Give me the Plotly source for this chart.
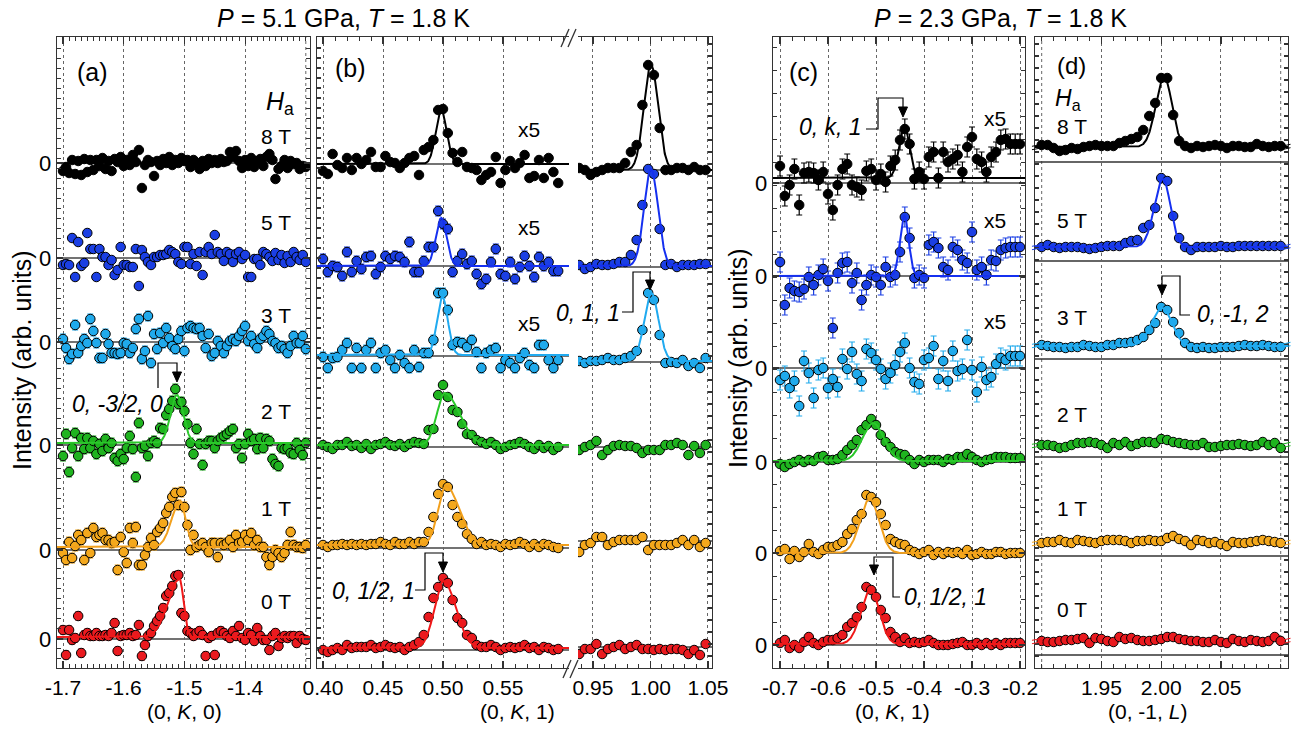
import numpy as np
import plotly.graph_objects as go

# the figure fills the 1303x731 window; the page's default body margin is removed
# after plotting (post_script) so that figure pixels map 1:1 onto the window
W, H = 1303, 731
OX, OY = 0, 0
FW, FH = W - OX, H - OY
FONT = "Liberation Sans, Arial, Helvetica, sans-serif"
LINE = "#333333"

# ---------------- data ----------------
FIELDS = ["8 T", "5 T", "3 T", "2 T", "1 T", "0 T"]

# scan grids
K_a = [-1.700, -1.695, -1.690, -1.685, -1.680, -1.675, -1.670, -1.665, -1.660, -1.655,
       -1.650, -1.645, -1.640, -1.635, -1.630, -1.625, -1.620, -1.615, -1.610, -1.605,
       -1.600, -1.595, -1.590, -1.585, -1.580, -1.575, -1.570, -1.565, -1.560, -1.555,
       -1.550, -1.545, -1.540, -1.535, -1.530, -1.525, -1.520, -1.515, -1.510, -1.505,
       -1.500, -1.495, -1.490, -1.485, -1.480, -1.475, -1.470, -1.465, -1.460, -1.455,
       -1.450, -1.445, -1.440, -1.435, -1.430, -1.425, -1.420, -1.415, -1.410, -1.405,
       -1.400, -1.395, -1.390, -1.385, -1.380, -1.375, -1.370, -1.365, -1.360, -1.355,
       -1.350, -1.345, -1.340, -1.335, -1.330, -1.325, -1.320, -1.315, -1.310, -1.305, -1.300]
K_b1 = [0.400, 0.404, 0.408, 0.412, 0.416, 0.420, 0.424, 0.428, 0.432, 0.436,
        0.440, 0.444, 0.448, 0.452, 0.456, 0.460, 0.464, 0.468, 0.472, 0.476,
        0.480, 0.484, 0.488, 0.492, 0.496, 0.500, 0.504, 0.508, 0.512, 0.516,
        0.520, 0.524, 0.528, 0.532, 0.536, 0.540, 0.544, 0.548, 0.552, 0.556,
        0.560, 0.564, 0.568, 0.572, 0.576, 0.580, 0.584, 0.588, 0.592, 0.596]
K_b2 = [0.938, 0.943, 0.948, 0.953, 0.958, 0.963, 0.968, 0.973, 0.978, 0.983,
        0.988, 0.993, 0.998, 1.003, 1.008, 1.013, 1.018, 1.023, 1.028, 1.033,
        1.038, 1.043, 1.048]
K_c = [-0.70, -0.69, -0.68, -0.67, -0.66, -0.65, -0.64, -0.63, -0.62, -0.61,
       -0.60, -0.59, -0.58, -0.57, -0.56, -0.55, -0.54, -0.53, -0.52, -0.51,
       -0.50, -0.49, -0.48, -0.47, -0.46, -0.45, -0.44, -0.43, -0.42, -0.41,
       -0.40, -0.39, -0.38, -0.37, -0.36, -0.35, -0.34, -0.33, -0.32, -0.31,
       -0.30, -0.29, -0.28, -0.27, -0.26, -0.25, -0.24, -0.23, -0.22, -0.21, -0.20]
L_d = [1.900, 1.905, 1.910, 1.915, 1.920, 1.925, 1.930, 1.935, 1.940, 1.945,
       1.950, 1.955, 1.960, 1.965, 1.970, 1.975, 1.980, 1.985, 1.990, 1.995,
       2.000, 2.005, 2.010, 2.015, 2.020, 2.025, 2.030, 2.035, 2.040, 2.045,
       2.050, 2.055, 2.060, 2.065, 2.070, 2.075, 2.080, 2.085, 2.090, 2.095, 2.100]

# panel (a): (0, K, 0), P = 5.1 GPa
A_8T = [-0.8, -0.4, -1.0, 0.3, -1.1, 0.2, -1.2, 0.4, -0.9, 0.3,
        -0.7, 0.3, -0.3, 0.5, -0.6, 0.2, -0.8, 0.4, 0.1, 0.6,
        -0.3, 0.3, -0.2, 0.8, 0.1, 1.3, -2.5, -0.2, 0.3, 0.1,
        -1.3, 0.2, -0.2, 0.4, 0.0, 0.6, -0.2, 0.3, 0.0, 0.5,
        0.2, 0.3, -0.4, 0.3, 0.0, -0.6, 0.2, -0.3, 0.4, 0.0,
        0.3, 0.0, 0.4, 0.1, 0.2, 1.1, 0.6, 1.2, 0.2, -0.5,
        0.3, -0.3, 0.5, -0.4, 0.2, 0.4, -0.3, 0.6, 0.9, 0.3,
        -1.6, -0.6, -0.3, 0.3, -0.5, 0.2, -0.1, 0.0, -0.6, -0.3, -0.4]
A_5T = [-0.7, -0.6, -0.7, 2.0, -1.9, 1.6, -0.8, -0.5, 2.5, 0.9,
        0.9, -1.9, 0.9, 0.1, 0.1, -0.7, -0.2, -1.7, -1.2, 1.1,
        -0.7, -0.7, -0.9, -0.9, 0.9, -2.8, 0.8, 0.1, -0.4, -0.7,
        0.1, 0.1, 0.3, 0.3, 0.4, 0.8, 0.6, 0.4, -0.4, -0.6,
        1.1, 1.1, -0.6, 0.4, -0.8, 0.6, -1.7, 0.6, 1.1, 0.4,
        2.3, 0.6, 0.4, -0.3, 0.6, 0.4, -0.4, 0.4, 0.6, -0.1,
        0.3, -1.9, -1.9, -0.1, -0.1, -0.7, 0.6, 0.4, 0.1, -0.3,
        0.5, -0.2, 0.3, -0.5, 0.2, -0.4, 0.6, 0.1, -0.2, 0.3, -0.4]
A_3T = [0.3, -0.6, -1.7, -1.2, 1.7, -1.1, -0.4, 0.3, -0.1, 2.3,
        1.1, -0.1, -1.6, -1.6, 0.8, -0.2, -1.1, -1.1, -1.2, -1.1,
        -0.1, -0.2, -1.1, -0.6, 1.3, 2.3, -1.7, -0.9, 2.6, -2.1,
        0.8, -0.7, 0.9, -0.1, 1.4, 0.4, -0.4, -0.7, 0.3, 1.1,
        -0.9, 1.4, 1.6, 1.4, 1.3, 1.4, 0.6, -0.6, 0.8, -1.4,
        -1.1, 0.1, -0.4, -1.1, -0.4, 0.1, 0.3, 0.1, 0.6, 1.1,
        1.6, 0.1, 0.6, -0.2, -0.6, 0.3, 0.6, 1.1, 0.8, 0.1,
        -0.1, -0.6, -0.4, -0.7, -1.1, -0.4, 0.6, -0.1, -0.1, 0.6, -0.7]
A_2T = [-1.1, 1.1, -2.7, -0.3, 1.2, -1.1, 0.7, -0.4, 0.7, -0.3,
        0.4, -0.9, 0.1, -0.6, 0.6, -0.3, 0.2, -1.3, -1.6, -0.9,
        -1.4, -0.3, 0.9, -0.4, -3.2, 2.2, -0.3, -0.1, -1.1, 0.2,
        0.4, 0.2, 1.7, 1.6, 3.0, 3.6, 4.4, 5.6, 4.1, 4.3,
        3.4, 2.1, 0.2, -0.9, 1.6, 0.1, -2.0, 0.1, 0.4, 0.4,
        -0.3, 0.4, 0.7, 0.9, 1.1, 1.4, 1.6, -0.3, 0.1, -1.3,
        0.1, 1.1, 0.4, 0.6, -0.4, 0.7, -0.3, 0.6, 0.4, -1.4,
        -1.9, -2.1, -0.3, -0.4, -0.3, -0.8, -0.9, 0.2, -0.5, -1.0, 0.2]
A_1T = [-0.3, -1.0, 0.8, -0.8, 0.4, 1.5, 1.0, -1.0, 1.7, -0.3,
        2.2, 1.3, 1.5, 1.7, 1.0, 1.0, 0.7, 0.8, -2.0, 1.3,
        -0.2, -1.3, 2.2, 0.7, 2.3, -1.5, -1.5, -0.5, 0.3, 1.2,
        0.5, 1.8, 2.2, 2.7, 3.7, 4.3, 5.3, 5.7, 4.5, 5.8,
        4.3, 2.5, 0.0, 1.5, 0.3, 0.5, 0.7, 0.3, -0.2, 0.7,
        0.7, -0.7, 0.7, 0.5, 0.7, 1.0, 0.3, 1.5, 0.7, 0.8,
        1.5, 1.0, 1.7, 0.5, 1.0, 0.3, 0.3, -0.7, -1.5, -0.7,
        0.0, -0.3, -0.7, -0.3, 0.5, 1.8, 0.5, 0.3, 0.3, 0.2, 0.5]
A_0T = [0.9, -1.6, 0.9, -0.1, 0.1, 2.3, -1.4, 0.4, 0.6, 0.3,
        0.3, 0.6, 0.3, 0.3, 0.4, 0.3, 0.6, 1.6, -1.2, 0.3,
        0.4, 0.4, 0.6, 0.3, 0.4, 1.4, -1.7, -0.6, 0.3, 0.6,
        1.3, 1.8, 2.3, 3.1, 4.3, 4.6, 5.3, 6.3, 6.4, 2.6,
        2.3, 0.8, 0.6, 0.3, 0.6, 0.8, 0.4, -1.7, 0.1, 0.3,
        -1.6, 0.6, 0.8, 0.6, 0.3, 0.1, 0.8, 0.3, 1.3, 0.1,
        -0.1, 0.6, 0.4, -0.2, 1.1, 0.3, -0.1, -0.1, -1.1, 0.3,
        0.6, -0.7, 0.1, 0.3, 0.1, 0.3, 0.3, -0.4, 0.3, 0.0, -0.1]

# panel (b), left part: (0, K, 1) around K = 1/2 (8, 5, 3 T shown x5)
B1_8T = [-0.7, -1.0, 1.0, -0.1, -0.4, 0.6, -0.6, 0.6, 0.0, 0.4,
         1.2, -0.3, -0.3, 0.8, 0.2, 0.1, -0.4, 0.1, 0.6, 0.8,
         -1.1, 1.4, 1.7, 2.4, 5.4, 5.5, 3.1, 1.1, 0.2, 1.2,
         -0.3, -0.4, -0.6, -1.6, -1.1, -0.8, 0.7, -1.9, -0.6, 0.3,
         -0.4, 0.1, 0.9, -1.4, -1.2, 0.4, -1.4, 0.6, -0.8, -1.9]
B1_5T = [0.7, -0.6, 0.0, -0.1, -1.0, 1.4, -0.6, 0.5, -0.3, 0.9,
         1.0, -0.8, -0.1, 1.0, 0.7, 1.0, 0.9, 0.4, 2.4, -0.6,
         -0.6, 0.5, 1.9, 1.9, 5.5, 4.2, 3.7, -0.6, 0.5, 1.2,
         0.2, 0.5, -0.8, -1.8, -1.3, 0.4, 1.7, -0.8, -1.0, 0.4,
         -1.3, -0.1, 1.0, 0.0, -1.1, 0.9, 0.0, 0.4, -0.5, -0.5]
B1_3T = [-0.1, -1.2, -0.2, -0.1, 0.6, 1.3, -1.2, 0.8, -1.2, 0.6,
         1.3, -1.2, 0.3, 0.6, -0.4, -1.2, 0.1, -0.7, -1.2, 0.6,
         -1.1, 0.3, 0.3, 1.6, 6.3, 6.3, 4.6, 1.1, 1.4, 1.3,
         0.9, 1.6, 0.4, -1.2, 0.3, 0.6, 0.8, -1.2, -0.4, -0.7,
         -1.2, -0.2, 0.3, -0.9, -1.2, 1.1, 1.1, -0.4, -1.2, -0.4]
B1_2T = [0.2, 0.0, -0.2, 0.2, 0.2, 0.5, 0.1, 0.2, -0.1, 0.3,
         -0.2, 0.2, 0.3, 0.5, 0.2, 0.1, 0.3, 0.0, 0.3, 0.5,
         0.4, 0.3, 1.7, 1.8, 5.2, 6.2, 5.0, 3.7, 3.5, 2.3,
         1.3, 1.2, 0.7, 0.5, 0.3, 0.5, 0.2, -0.2, 0.0, 0.2,
         0.3, 0.5, 0.3, 0.0, -0.2, 0.2, -0.1, 0.1, -0.3, 0.0]
B1_1T = [0.3, 0.1, 0.3, 0.3, 0.4, 0.3, 0.4, 0.3, 0.4, 0.3,
         0.4, 0.4, 0.6, 0.4, 0.3, 0.6, 0.4, 0.4, 0.6, 0.4,
         0.6, 0.6, 1.6, 3.1, 5.4, 6.4, 6.1, 4.3, 3.1, 2.4,
         1.4, 0.9, 0.4, 0.6, 0.3, 0.4, 0.3, 0.1, 0.4, 0.3,
         0.4, 0.6, 0.4, 0.1, 0.4, 0.1, 0.4, 0.3, 0.1, 0.0]
B1_0T = [0.0, -0.2, 0.0, 0.2, 0.0, 0.5, 0.2, 0.3, 0.3, 0.3,
         0.5, 0.2, 0.3, 0.5, 0.3, 0.2, 0.3, 0.0, 0.3, 0.5,
         0.8, 1.5, 3.3, 5.2, 6.3, 7.2, 6.7, 5.0, 3.2, 2.7,
         1.5, 1.2, 0.5, 0.3, 0.3, 0.5, 0.3, 0.0, 0.2, 0.3,
         0.2, 0.3, 0.5, 0.2, 0.3, 0.0, 0.3, 0.2, 0.0, 0.1]

# panel (b), right part: around K = 1
B2_8T = [0.2, 0.0, -0.5, -0.2, 0.0, 0.2, 0.2, 0.2, 0.7, 1.8, 2.5, 6.5, 10.5, 9.5, 4.2,
         0.0, 0.0, 0.2, 0.2, 0.0, 0.3, 0.0, 0.0]
B2_5T = [0.2, -0.2, 0.0, 0.3, 0.2, 0.2, 0.3, 0.5, 0.5, 1.2, 2.7, 6.2, 9.8, 9.3, 3.8,
         0.2, 0.3, 0.0, 0.2, 0.2, 0.2, 0.3, 0.3]
B2_3T = [0.1, -0.1, 0.1, 0.1, 0.2, 0.4, 0.2, 0.2, 0.4, 0.6, 1.1, 3.2, 6.9, 6.2, 2.7,
         -0.1, 0.0, -0.1, 0.2, -0.4, -0.1, -0.6, 0.4]
B2_2T = [-0.3, 0.0, 0.2, 0.6, -0.8, -0.3, 0.1, 0.2, 0.1, 0.1, -0.1, -0.6, -0.3, -0.3, -0.3,
         0.2, 0.2, 0.4, 0.2, -0.8, 0.1, -0.6, 0.2]
B2_1T = [-1.1, -0.4, -0.2, 0.4, 0.4, -0.4, -0.1, 0.1, 0.1, 0.1, 0.1, 0.4, -0.9, -0.4, -0.4,
         -0.4, -0.4, -0.2, 0.1, -0.4, 0.1, -0.6, -0.2]
B2_0T = [-0.7, -0.2, -0.2, 0.3, -0.7, -0.2, 0.0, 0.2, -0.2, 0.0, 0.2, -0.2, -0.2, -0.3, -0.2,
         -0.3, -0.2, -0.2, -0.3, -0.7, -0.3, -0.8, 0.3]

# panel (c): (0, K, 1), P = 2.3 GPa (8, 5, 3 T shown x5)
C_8T = [1.7, -1.3, -0.2, 1.4, -2.2, 1.0, 1.1, 1.0, 0.3, 1.1,
        -1.1, -2.7, -0.2, 1.4, 1.9, -0.2, -0.4, -0.7, 1.2, 1.4,
        0.3, 0.9, 0.1, 1.7, 2.3, 4.3, 5.4, 3.9, 0.4, 1.1,
        0.4, 2.6, 3.1, 0.5, 3.1, 2.1, 2.4, 2.8, 1.1, 3.6,
        4.6, 2.4, 2.1, 1.1, 2.6, 3.1, 4.3, 4.4, 3.9, 3.9, 3.9]
C_5T = [1.4, -2.9, -1.2, -1.5, -1.6, -1.3, -0.1, -0.9, 0.1, 0.7,
        -0.5, -5.2, 0.3, 1.3, 1.4, -0.7, 0.3, -2.4, -0.9, 0.1,
        -0.1, -0.9, 0.9, -0.1, 0.1, 2.4, 5.9, 3.8, -0.2, 0.1,
        -0.2, 3.1, 3.4, 2.8, 0.9, 0.6, 2.9, 2.6, 1.6, 1.3,
        4.4, 0.6, 0.9, 0.1, 1.6, 1.5, 2.6, 2.8, 2.9, 2.9, 2.9]
C_3T = [-1.2, -0.8, -2.0, -1.3, -3.8, 0.7, -0.5, -3.0, -0.2, 0.0,
        -2.0, -1.1, -1.9, 0.9, -0.1, 1.6, -0.6, -1.3, 1.9, 1.5,
        0.8, -0.1, -1.1, -0.5, 0.3, 1.6, 2.5, 0.0, -1.4, -1.6,
        0.8, 1.0, 2.2, -1.1, 0.7, -1.3, 1.7, -0.3, -0.1, 2.8,
        -0.2, -2.4, 0.1, -1.2, -0.9, 0.4, 1.0, 0.8, 1.2, 1.2, 1.2]
C_2T = [-0.2, -0.5, -0.2, 0.0, 0.2, 0.0, 0.2, 0.1, 0.5, 0.6,
        0.2, 0.2, 0.3, 0.7, 1.2, 1.7, 2.2, 3.2, 3.7, 4.3,
        3.7, 2.7, 2.0, 1.5, 1.0, 0.8, 0.7, 0.2, -0.2, 0.2,
        0.0, 0.2, 0.2, 0.2, 0.0, 0.3, 0.2, 0.5, 0.5, 0.8,
        0.5, 0.2, 0.0, 0.2, 0.3, 0.5, 0.5, 0.5, 0.4, 0.4, 0.4]
C_1T = [0.2, 0.4, -0.6, 0.2, -0.4, 0.1, 0.9, 0.1, -0.1, 0.3,
        0.6, 0.6, 0.8, 1.1, 1.9, 2.4, 3.3, 3.9, 5.8, 5.6,
        5.1, 3.9, 2.8, 1.4, 1.1, 0.9, 0.8, 0.3, 0.1, -0.1,
        0.1, 0.3, -0.2, 0.1, -0.1, 0.1, 0.0, 0.1, -0.1, 0.3,
        -0.2, -0.1, 0.1, -0.1, -0.1, 0.1, 0.1, -0.1, 0.0, 0.0, 0.0]
C_0T = [0.2, 0.5, -0.3, 0.0, -0.3, 0.3, 0.8, 0.2, 0.0, 0.3,
        0.5, 0.5, 0.7, 1.0, 1.8, 2.2, 2.8, 3.8, 5.8, 5.5,
        4.8, 3.5, 2.7, 1.3, 0.8, 0.3, 0.7, 0.2, 0.3, 0.2,
        0.3, 0.5, 0.2, 0.0, 0.0, 0.0, 0.1, 0.2, 0.3, 0.0,
        0.0, 0.2, 0.0, 0.2, 0.0, 0.2, 0.0, 0.2, 0.2, 0.2, 0.2]

# panel (d): (0, -1, L)
D_8T = [0.2, 0.2, -0.1, -0.4, -0.3, -0.1, -0.2, 0.0, 0.1, 0.2,
        0.1, 0.1, 0.1, 0.4, 0.6, 0.8, 1.0, 1.7, 3.1, 4.4,
        6.9, 6.9, 3.2, 0.6, 0.1, -0.1, 0.1, 0.0, 0.1, 0.2,
        0.1, -0.1, 0.1, 0.1, 0.0, 0.0, 0.3, 0.1, 0.0, 0.1, 0.1]
D_5T = [0.0, 0.2, 0.0, -0.1, 0.0, 0.0, 0.0, -0.1, -0.2, -0.1,
        0.0, 0.1, 0.1, 0.1, 0.4, 0.6, 0.7, 1.9, 2.2, 3.9,
        6.9, 6.6, 3.1, 0.9, 0.0, -0.3, 0.0, 0.0, 0.0, 0.0,
        0.1, 0.0, 0.0, 0.1, 0.1, 0.1, 0.1, 0.1, 0.1, 0.1, 0.1]
D_3T = [0.0, -0.1, -0.2, -0.2, -0.3, -0.2, -0.2, 0.0, -0.1, -0.2,
        -0.2, 0.0, 0.0, 0.2, 0.2, 0.3, 0.5, 0.8, 1.5, 2.2,
        3.8, 3.5, 2.3, 1.2, 0.2, -0.2, -0.3, -0.2, -0.3, -0.3,
        -0.2, -0.2, -0.2, -0.1, 0.0, -0.1, -0.1, 0.0, -0.1, -0.2, -0.2]
D_2T = [0.0, 0.0, -0.1, -0.3, -0.2, 0.0, 0.2, 0.2, 0.3, 0.2,
        0.0, -0.3, 0.2, 0.0, 0.3, -0.1, 0.1, 0.3, 0.3, 0.2,
        0.6, 0.5, 0.3, 0.2, 0.1, 0.0, 0.0, 0.2, -0.2, -0.2,
        -0.1, 0.0, 0.0, 0.1, 0.0, -0.1, 0.0, 0.3, 0.0, 0.2, -0.3]
D_1T = [0.0, 0.1, 0.1, 0.3, 0.1, 0.0, 0.3, 0.2, 0.1, 0.0,
        0.2, 0.3, 0.3, 0.3, 0.2, 0.0, 0.2, 0.2, 0.3, 0.2,
        0.2, 0.5, 0.7, 0.4, 0.2, -0.2, 0.3, 0.2, 0.0, 0.1,
        -0.1, -0.3, 0.1, 0.0, 0.0, 0.1, 0.2, 0.3, 0.2, 0.1, 0.0]
D_0T = [0.0, -0.1, -0.1, 0.0, 0.1, 0.1, 0.2, 0.3, -0.2, 0.3,
        0.2, 0.0, -0.1, 0.4, 0.2, 0.3, 0.1, 0.0, 0.0, 0.1,
        0.2, 0.4, 0.4, 0.2, 0.1, 0.0, 0.0, -0.1, -0.1, 0.1,
        -0.1, -0.2, 0.2, 0.0, -0.1, 0.1, 0.0, -0.1, 0.0, 0.4, 0.0]

# error bar half-sizes per field (8,5,3,2,1,0 T)
ERR_A = [0.3, 0.3, 0.5, 0.5, 0.5, 0.4]
ERR_B1 = [0.3, 0.5, 0.5, 0.2, 0.2, 0.2]
ERR_B2 = [0.2, 0.2, 0.2, 0.2, 0.2, 0.2]
ERR_C = [1.0, 1.0, 1.0, 0.3, 0.3, 0.3]
ERR_D = [0.1, 0.1, 0.1, 0.1, 0.1, 0.1]

# fit parameters: (background, amplitude, centre, sigma_left, sigma_right)
FIT_A = {"2 T": (0.2, 4.8, -1.5125, 0.0105, 0.0105),
         "1 T": (0.3, 4.6, -1.507, 0.014, 0.009),
         "0 T": (0.2, 5.8, -1.508, 0.019, 0.0065)}
FIT_B1 = {"8 T": (0.0, 5.4, 0.4985, 0.0045, 0.0045),
          "5 T": (0.0, 4.8, 0.4985, 0.0045, 0.0045),
          "3 T": (0.1, 5.8, 0.4995, 0.0045, 0.0045),
          "2 T": (0.2, 5.2, 0.5015, 0.0065, 0.012),
          "1 T": (0.3, 5.9, 0.5025, 0.0065, 0.011),
          "0 T": (0.2, 6.7, 0.5005, 0.0075, 0.010)}
FIT_B2 = {"8 T": (0.0, 10.5, 1.0005, 0.0062, 0.0062),
          "5 T": (0.1, 9.7, 1.0005, 0.006, 0.006),
          "3 T": (0.1, 6.8, 1.0008, 0.0062, 0.0062)}
FIT_C = {"8 T": (0.5, 5.2, -0.441, 0.011, 0.011),
         "5 T": (0.0, 6.0, -0.441, 0.009, 0.009),
         "2 T": (0.1, 3.8, -0.506, 0.022, 0.022),
         "1 T": (0.0, 5.4, -0.513, 0.020, 0.019),
         "0 T": (0.1, 5.4, -0.511, 0.020, 0.018)}
FIT_D = {"8 T": (0.0, 7.0, 2.0025, 0.0070, 0.0065),
         "5 T": (0.0, 6.8, 2.0015, 0.0072, 0.0062),
         "3 T": (-0.1, 3.8, 2.0010, 0.0090, 0.0080)}

# ---------------- styling / layout ----------------
MARKER_COLORS = ["#000000", "#1b3fe4", "#20aaec", "#1fb41f", "#f4a81c", "#ea1a1f"]
FIT_COLORS = ["#000000", "#1530f0", "#20aaf0", "#2ac82a", "#f2a01c", "#f01818"]

# vertical offsets (zero line of each field) per panel, in plot units
OFF_A = [50.5, 41.0, 32.6, 22.3, 11.8, 2.9]
OFF_B1 = [50.4, 40.2, 31.2, 22.1, 12.0, 1.8]
OFF_B2 = [49.8, 40.1, 30.6, 22.1, 12.7, 2.1]
OFF_C = [48.5, 39.2, 30.0, 20.6, 11.5, 2.3]
OFF_D = [52.1, 42.1, 32.3, 22.3, 12.5, 2.7]
SEP_D = [50.6, 40.7, 30.9, 21.1, 11.2, 1.3]

Y_RANGE = [0, 63.1]

RANGE_A = [-1.7099, -1.2931]
RANGE_B1 = [0.395, 0.605]
RANGE_B2 = [0.937, 1.0535]
RANGE_C = [-0.7146, -0.1896]
RANGE_D = [1.8944, 2.1061]


def px(x):
    return (x - OX) / FW


def py(y):
    return 1 - (y - OY) / FH


Y_DOM = [py(668), py(37)]


def fit_curve(x, bg, amp, cen, sl, sr):
    s = np.where(x < cen, sl, sr)
    return bg + amp * np.exp(-0.5 * ((x - cen) / s) ** 2)


fig = go.Figure()

PANELS = [
    dict(xa="x", ya="y", K=K_a, data=[A_8T, A_5T, A_3T, A_2T, A_1T, A_0T],
         off=OFF_A, err=ERR_A, fits=FIT_A, rng=RANGE_A, base=True),
    dict(xa="x2", ya="y2", K=K_b1, data=[B1_8T, B1_5T, B1_3T, B1_2T, B1_1T, B1_0T],
         off=OFF_B1, err=ERR_B1, fits=FIT_B1, rng=RANGE_B1, base=True),
    dict(xa="x3", ya="y3", K=K_b2, data=[B2_8T, B2_5T, B2_3T, B2_2T, B2_1T, B2_0T],
         off=OFF_B2, err=ERR_B2, fits=FIT_B2, rng=RANGE_B2, base=True),
    dict(xa="x4", ya="y4", K=K_c, data=[C_8T, C_5T, C_3T, C_2T, C_1T, C_0T],
         off=OFF_C, err=ERR_C, fits=FIT_C, rng=RANGE_C, base=True),
    dict(xa="x5", ya="y5", K=L_d, data=[D_8T, D_5T, D_3T, D_2T, D_1T, D_0T],
         off=OFF_D, err=ERR_D, fits=FIT_D, rng=RANGE_D, base=False),
]

shapes = []
for P in PANELS:
    if P["base"]:
        for o in P["off"]:
            shapes.append(dict(type="line", xref=P["xa"] + " domain", yref=P["ya"],
                               x0=0, x1=1, y0=o, y1=o, layer="below",
                               line=dict(color="#444444", width=1.3)))
    for i, lab in enumerate(FIELDS):
        vals = P["data"][i]
        n = min(len(P["K"]), len(vals))
        fig.add_trace(go.Scatter(
            x=P["K"][:n], y=[P["off"][i] + v for v in vals[:n]],
            mode="markers", xaxis=P["xa"], yaxis=P["ya"], hoverinfo="skip",
            marker=dict(size=9.5, color=MARKER_COLORS[i], line=dict(color="black", width=1)),
            error_y=dict(type="constant", value=P["err"][i], color=MARKER_COLORS[i],
                         thickness=1.2, width=3)))
    for i, lab in enumerate(FIELDS):
        if lab in P["fits"]:
            xf = np.linspace(P["rng"][0], P["rng"][1], 700)
            yf = P["off"][i] + fit_curve(xf, *P["fits"][lab])
            fig.add_trace(go.Scatter(x=xf, y=yf, mode="lines", xaxis=P["xa"], yaxis=P["ya"],
                                     hoverinfo="skip", line=dict(color=FIT_COLORS[i], width=2)))

# unlabeled dotted grid lines at the panel edges
for xa, v in (("x", -1.3), ("x5", 1.90), ("x5", 2.10)):
    shapes.append(dict(type="line", xref=xa, yref=xa.replace("x", "y") + " domain",
                       x0=v, x1=v, y0=0, y1=1, layer="below",
                       line=dict(color="#666666", width=1, dash="dot")))

# panel (d): separators and axis-break marks
for s in SEP_D:
    shapes.append(dict(type="line", xref="x5 domain", yref="y5", x0=0, x1=1, y0=s, y1=s,
                       layer="below", line=dict(color="#333333", width=1.5)))
for i, o in enumerate(OFF_D):
    for dy in (-0.17, 0.17):
        for (a0, a1) in ((-0.012, 0.03), (0.975, 1.01)):
            shapes.append(dict(type="line", xref="x5 domain", yref="y5", x0=a0, x1=a1,
                               y0=o + dy - 0.1, y1=o + dy + 0.1,
                               line=dict(color=MARKER_COLORS[i], width=1)))


def ppath(pts, close=False):
    s = "M " + " L ".join(f"{px(a):.5f},{py(b):.5f}" for a, b in pts)
    return s + (" Z" if close else "")


# axis break "//" marks on panel (b)
for (x0, y0, x1, y1) in [(561, 47, 569, 29), (568, 47, 576, 29),
                         (563, 678, 571, 660), (570, 678, 578, 660)]:
    shapes.append(dict(type="line", xref="paper", yref="paper", x0=px(x0), y0=py(y0),
                       x1=px(x1), y1=py(y1), line=dict(color="#333333", width=1.3)))

# reflection label brackets with arrows
BRACKETS = [
    [(158, 388), (158, 363), (177, 363), (177, 372)],
    [(415, 590), (425, 590), (425, 553), (443, 553), (443, 562)],
    [(622, 312), (633, 312), (633, 272), (650, 272), (650, 280)],
    [(866, 129), (878, 129), (878, 98), (903, 98), (903, 107)],
    [(900, 597), (893, 597), (893, 557), (874, 557), (874, 565)],
    [(1190, 315), (1180, 315), (1180, 276), (1162, 276), (1162, 285)],
]
for b in BRACKETS:
    shapes.append(dict(type="path", xref="paper", yref="paper", path=ppath(b),
                       line=dict(color="black", width=1.2)))
    tx, ty = b[-1]
    shapes.append(dict(type="path", xref="paper", yref="paper",
                       path=ppath([(tx - 4.5, ty), (tx + 4.5, ty), (tx, ty + 10)], close=True),
                       fillcolor="black", line=dict(color="black", width=1)))


def ann(text, x, y, size=21, xanchor="center", angle=0):
    fig.add_annotation(text=text, x=px(x), y=py(y), xref="paper", yref="paper",
                       showarrow=False, xanchor=xanchor, yanchor="middle", textangle=angle,
                       font=dict(family=FONT, size=size, color="black"))


ann("<i>P</i> = 5.1 GPa, <i>T</i> = 1.8 K", 343, 18, 25)
ann("<i>P</i> = 2.3 GPa, <i>T</i> = 1.8 K", 1000, 18, 25)
ann("Intensity (arb. units)", 22, 360, 25, angle=-90)
ann("Intensity (arb. units)", 738, 358, 25, angle=-90)
ann("(0, <i>K</i>, 0)", 184, 711, 21)
ann("(0, <i>K</i>, 1)", 517, 711, 21)
ann("(0, <i>K</i>, 1)", 892, 711, 21)
ann("(0, -1, <i>L</i>)", 1147, 711, 21)
ann("(a)", 92, 72, 25)
ann("(b)", 350, 68, 25)
ann("(c)", 804, 72, 25)
ann("(d)", 1071, 66, 24)
ann("<i>H</i><sub>a</sub>", 296, 103, 25, xanchor="right")
ann("<i>H</i><sub>a</sub>", 1053, 99, 23, xanchor="left")
for lab, ya, yd in zip(FIELDS, [136, 222, 315, 411, 508, 601], [127, 220, 317, 415, 508, 609]):
    ann(lab, 293, ya, 21, xanchor="right")
    ann(lab, 1055, yd, 21, xanchor="left")
for y in (129, 227, 324):
    ann("x5", 529, y, 21)
for y in (118, 220, 321):
    ann("x5", 995, y, 21)
ann("<i>0, -3/2, 0</i>", 117, 404, 23)
ann("<i>0, 1/2, 1</i>", 374, 591, 23)
ann("<i>0, 1, 1</i>", 588, 313, 23)
ann("<i>0, k, 1</i>", 830, 127, 23)
ann("<i>0, 1/2, 1</i>", 945, 597, 23)
ann("<i>0, -1, 2</i>", 1233, 314, 23)


def xcfg(dom, rng, tv, tt, mdt, anchor):
    return dict(domain=[px(dom[0]), px(dom[1])], range=rng, anchor=anchor,
                tickmode="array", tickvals=tv, ticktext=tt,
                ticks="inside", ticklen=7, tickwidth=1.2, tickcolor=LINE,
                showline=True, linecolor=LINE, linewidth=1.4, mirror="ticks",
                showgrid=True, gridcolor="#666666", griddash="dot", gridwidth=1,
                zeroline=False, automargin=False, fixedrange=True,
                tickfont=dict(family=FONT, size=21, color="black"),
                minor=dict(tickmode="linear", tick0=0, dtick=mdt, ticks="inside",
                           ticklen=4, tickwidth=1, tickcolor=LINE, showgrid=False))


def ycfg(anchor, tv=None, mdt=1.0, side="left", mirror="ticks", labels=False):
    d = dict(domain=Y_DOM, range=Y_RANGE, anchor=anchor, side=side,
             ticks="inside", tickwidth=1.2, tickcolor=LINE,
             showline=True, linecolor=LINE, linewidth=1.4, mirror=mirror,
             showgrid=False, zeroline=False, automargin=False, fixedrange=True,
             tickfont=dict(family=FONT, size=22, color="black"))
    if labels:
        d.update(tickmode="array", tickvals=tv, ticktext=["0"] * len(tv), ticklen=6,
                 minor=dict(tickmode="linear", tick0=0, dtick=mdt, ticks="inside",
                            ticklen=4, tickwidth=1, tickcolor=LINE, showgrid=False))
    else:
        d.update(tickmode="linear", tick0=0, dtick=mdt, ticklen=4, showticklabels=False)
    return d


fig.update_layout(
    width=FW, height=FH, margin=dict(l=0, r=0, t=0, b=0),
    paper_bgcolor="white", plot_bgcolor="white", showlegend=False,
    xaxis=xcfg((57, 310), RANGE_A, [-1.7, -1.6, -1.5, -1.4],
               ["-1.7", "-1.6", "-1.5", "-1.4"], 0.01, "y"),
    xaxis2=xcfg((317, 569), RANGE_B1, [0.40, 0.45, 0.50, 0.55],
                ["0.40", "0.45", "0.50", "0.55"], 0.01, "y2"),
    xaxis3=xcfg((578, 712), RANGE_B2, [0.95, 1.00, 1.05],
                ["0.95", "1.00", "1.05"], 0.01, "y3"),
    xaxis4=xcfg((773, 1025), RANGE_C, [-0.7, -0.6, -0.5, -0.4, -0.3, -0.2],
                ["-0.7", "-0.6", "-0.5", "-0.4", "-0.3", "-0.2"], 0.025, "y4"),
    xaxis5=xcfg((1035, 1288), RANGE_D, [1.95, 2.00, 2.05],
                ["1.95", "2.00", "2.05"], 0.01, "y5"),
    yaxis=ycfg("x", OFF_A, 1.0, labels=True),
    yaxis2=ycfg("x2", mdt=1.0, side="left", mirror=False),
    yaxis3=ycfg("x3", mdt=1.2, side="right", mirror=False),
    yaxis4=ycfg("x4", OFF_C, 2.3, labels=True),
    yaxis5=ycfg("x5", mdt=1.2),
    shapes=shapes,
)

fig.write_html("out.html", config={"displayModeBar": False, "staticPlot": True},
               post_script="document.body.style.margin='0';document.body.style.overflow='hidden';")
